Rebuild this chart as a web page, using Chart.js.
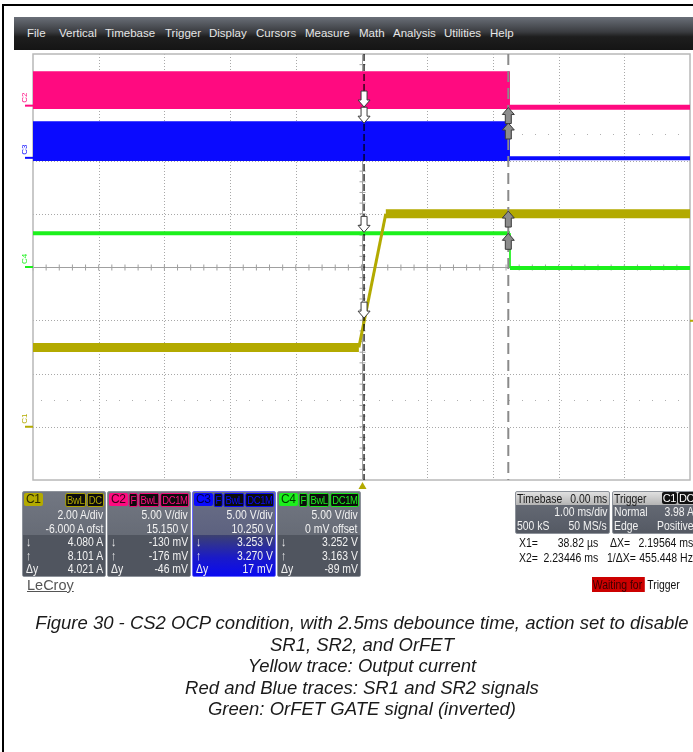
<!DOCTYPE html>
<html>
<head>
<meta charset="utf-8">
<script src="https://cdn.jsdelivr.net/npm/chart.js@4/dist/chart.umd.min.js"></script>
<style>
  body { margin:0; width:693px; height:752px; position:relative; overflow:hidden; background:#fff;
         font-family:'Liberation Sans',sans-serif; }
  #scope { position:absolute; left:0; top:0; }
  .frame { position:absolute; background:#000; }
  #menu { position:absolute; left:14px; top:17px; width:679px; height:33px;
          background:linear-gradient(#6a6f78 0%, #3a3c40 45%, #1e1e1e 60%, #151515 100%); }
  #menu span { position:absolute; top:10px; color:#e6e6e6; font-size:11.5px; }
  .n { display:inline-block; transform:scaleX(0.8); white-space:nowrap; }
  .nl { transform-origin:left center; } .nr { transform-origin:right center; }
  .rw { position:relative; height:13.5px; line-height:13.5px; }
  .rw .l { position:absolute; left:3px; top:0; }
  .rw .r { position:absolute; right:2px; top:0; }
  .panel { position:absolute; top:491px; width:82px; height:84px; border:1px solid #8d929a; border-radius:2px;
           background:linear-gradient(#727782, #5c616b); color:#f2f2f2; font-size:13px; overflow:hidden; }
  .panel .hd { position:relative; height:16px; }
  .panel .nm { position:absolute; left:1px; top:1px; padding:0 2px; border-radius:2px; font-size:12px; line-height:13px; letter-spacing:-0.3px; }
  .panel .bds { position:absolute; right:1px; top:1px; display:flex; transform:scaleX(0.9); transform-origin:right center; }
  .panel .bd { background:#0c0c0c; border-radius:2px; padding:0 1px; font-size:10.5px; line-height:12px; margin-left:1px; letter-spacing:-0.4px; }
  .panel .ms { position:absolute; left:0; right:0; top:43px; bottom:0; background:#50555f; }
  .tpanel { position:absolute; top:491px; height:41px; border:1px solid #8d929a; border-radius:2px;
            background:linear-gradient(#6a6f7a, #555a64); color:#f2f2f2; font-size:13px; overflow:hidden; }
  .tpanel .hd { height:13px; line-height:13px; background:linear-gradient(#e0e0e0,#b4b4b4); color:#1a1a1a; }
  .tpanel .hd.rw .l { left:1px; } .tpanel .rw .l { left:1px; }
  .txt { position:absolute; font-size:12.5px; color:#111; white-space:nowrap; height:15px; line-height:15px; }
  #caption { position:absolute; left:30px; width:664px; top:612px; text-align:center; font-style:italic;
             font-size:18.5px; color:#1a1a1a; line-height:21.5px; }
</style>
</head>
<body>
<canvas id="scope" width="693" height="752"></canvas>
<div class="frame" style="left:2px; top:4px; width:691px; height:2px;"></div>
<div class="frame" style="left:2px; top:4px; width:2px; height:748px;"></div>
<div id="menu"></div>
<div id="panels"></div>
<div class="txt" style="left:27px; top:578px; font-size:14.5px; color:#555; text-decoration:underline;">LeCroy</div>
<div id="readout"></div>
<div id="caption"></div>

<script>
// ---- trace data ----
// time axis: 1.00 ms/div, trigger at centre -> -5 .. +5 ms
const c1Time = [-5, -0.04, 0.37, 5];          // C1 output current, A
const c1Amps = [2.98, 2.98, 8.0, 8.0];

const c2OnTime = [-5, 2.26];                  // C2 SR1 gate, switching band (V)
const c2OnHigh = [3.1, 3.1];
const c2OnLow = [-0.17, -0.17];
const c2OffTime = [2.26, 5];
const c2Off = [-0.14, -0.14];

const c3OnTime = [-5, 2.26];                  // C3 SR2 gate, switching band (V)
const c3OnHigh = [3.3, 3.3];
const c3OnLow = [-0.16, -0.16];
const c3OffTime = [2.26, 5];
const c3Off = [-0.05, -0.05];

const c4Time = [-5, 2.26, 2.26, 5];           // C4 OrFET gate (inverted), V
const c4Volts = [3.17, 3.17, -0.09, -0.09];

// vertical settings per channel: units/div and offset
const chScale = { C1: 2, C2: 5, C3: 5, C4: 5 };
const chOffset = { C1: -6, C2: 15.15, C3: 10.25, C4: 0 };
const chColor = { C1: '#b3aa00', C2: '#ff0a80', C3: '#0a0aff', C4: '#1cf01c' };

// cursors
const cursorTime = [0.03882, 2.23446];        // X1, X2 in ms
const cursorX1 = { C1: 4.080, C2: -0.130, C3: 3.253, C4: 3.252 };
const cursorX2 = { C1: 8.101, C2: -0.176, C3: 3.270, C4: 3.163 };
const triggerLevel = 3.98;                    // A on C1

const toDiv = (ch, v) => (v + chOffset[ch]) / chScale[ch];
const pts = (ch, ts, vs) => ts.map((t, i) => ({ x: t, y: toDiv(ch, vs[i]) }));

// ---- menu, panels, readouts, caption ----
const L = s => `<span class="l"><span class="n nl">${s}</span></span>`;
const R = s => `<span class="r"><span class="n nr">${s}</span></span>`;

const menuItems = ['File','Vertical','Timebase','Trigger','Display','Cursors','Measure','Math','Analysis','Utilities','Help'];
const menuX = [27, 59, 105, 165, 209, 256, 305, 359, 393, 444, 490];
document.getElementById('menu').innerHTML =
  menuItems.map((m, i) => `<span style="left:${menuX[i] - 14}px">${m}</span>`).join('');

const panels = [
  { id:'C1', left:22,  nameTxt:'#2b2900', badges:['BwL','DC'], rows:['2.00 A/div','-6.000 A ofst'], meas:['4.080 A','8.101 A','4.021 A'] },
  { id:'C2', left:107, nameTxt:'#3a0018', badges:['F','BwL','DC1M'], rows:['5.00 V/div','15.150 V'], meas:['-130 mV','-176 mV','-46 mV'] },
  { id:'C3', left:192, nameTxt:'#00004a', badges:['F','BwL','DC1M'], rows:['5.00 V/div','10.250 V'], meas:['3.253 V','3.270 V','17 mV'], active:true },
  { id:'C4', left:277, nameTxt:'#003a00', badges:['F','BwL','DC1M'], rows:['5.00 V/div','0 mV offset'], meas:['3.252 V','3.163 V','-89 mV'] }
];
const measSym = ['↓','↑','Δy'];
let html = '';
panels.forEach(p => {
  const c = chColor[p.id];
  const style = p.active ? 'border-color:#6a6aff; background:linear-gradient(#6a6f86,#50557a);' : '';
  const msStyle = p.active ? 'background:linear-gradient(#3c4170 0%, #1a1ac8 55%, #0a0af0 100%);' : '';
  html += `<div class="panel" style="left:${p.left}px; ${style}">
    <div class="hd"><span class="nm" style="background:${c}; color:${p.nameTxt}">${p.id}</span>
      <span class="bds">${p.badges.map(b => `<span class="bd" style="color:${c}; border:1px solid ${c}">${b}</span>`).join('')}</span></div>
    ${p.rows.map(r => `<div class="rw">${R(r)}</div>`).join('')}
    <div class="ms" style="${msStyle}">${p.meas.map((m, i) => `<div class="rw">${L(measSym[i])}${R(m)}</div>`).join('')}</div>
  </div>`;
});
html += `<div class="tpanel" style="left:515px; width:93px;">
  <div class="hd rw">${L('Timebase')}${R('0.00 ms')}</div>
  <div class="rw">${R('1.00 ms/div')}</div>
  <div class="rw">${L('500 kS')}${R('50 MS/s')}</div></div>`;
html += `<div class="tpanel" style="left:612px; width:86px;">
  <div class="hd rw">${L('Trigger')}<span class="r" style="font-size:11px; letter-spacing:-0.4px; right:4px"><span style="background:#111;color:#fff;padding:0 1px;border-radius:2px">C1</span><span style="background:#111;color:#fff;padding:0 1px;border-radius:2px;margin-left:1px">DC</span></span></div>
  <div class="rw" style="margin-right:3px">${L('Normal')}${R('3.98 A')}</div>
  <div class="rw" style="margin-right:3px">${L('Edge')}${R('Positive')}</div></div>`;
document.getElementById('panels').innerHTML = html;

// cursor readouts: [text, x, y, align]
const readout = [
  ['X1=', 519, 536, 'l'], ['38.82 µs', 598, 536, 'r'], ['ΔX=', 610, 536, 'l'], ['2.19564 ms', 693, 536, 'r'],
  ['X2=', 519, 551, 'l'], ['2.23446 ms', 598, 551, 'r'], ['1/ΔX=', 607, 551, 'l'], ['455.448 Hz', 693, 551, 'r']
];
document.getElementById('readout').innerHTML = readout.map(([t, x, y, a]) => a === 'l'
  ? `<div class="txt" style="left:${x}px; top:${y}px"><span class="n nl" style="transform:scaleX(0.84)">${t}</span></div>`
  : `<div class="txt" style="left:${x - 120}px; width:120px; top:${y}px; text-align:right"><span class="n nr" style="transform:scaleX(0.84)">${t}</span></div>`).join('') +
  `<div class="txt" style="left:592px; top:577px; font-size:13px"><span class="n nl" style="transform:scaleX(0.8)"><span style="display:inline-block; background:#cc0000; color:#3a0000; padding:0 3px 0 1px; height:15px">Waiting for</span> Trigger</span></div>`;

const captionLines = [
  'Figure 30 - CS2 OCP condition, with 2.5ms debounce time, action set to disable',
  'SR1, SR2, and OrFET',
  'Yellow trace: Output current',
  'Red and Blue traces: SR1 and SR2 signals',
  'Green: OrFET GATE signal (inverted)'
];
document.getElementById('caption').innerHTML = captionLines.map(l => `<div>${l}</div>`).join('');

// ---- scope graticule, cursors and markers ----
const scopePlugin = {
  id: 'scopeScreen',
  beforeDatasetsDraw(chart) {
    const { ctx, chartArea: a, scales: { x, y } } = chart;
    const line = (x1, y1, x2, y2) => { ctx.beginPath(); ctx.moveTo(x1, y1); ctx.lineTo(x2, y2); ctx.stroke(); };
    ctx.save();
    ctx.strokeStyle = '#a8a8a8'; ctx.lineWidth = 1; ctx.setLineDash([1, 2]);
    for (let t = -4; t <= 4; t++) {
      if (t === 0) continue;
      const px = Math.round(x.getPixelForValue(t)) + 0.5;
      line(px, a.top, px, a.bottom);
    }
    for (let d = -3; d <= 3; d++) {
      if (d === 0) continue;
      const py = Math.round(y.getPixelForValue(d)) + 0.5;
      line(a.left, py, a.right, py);
    }
    ctx.setLineDash([1, 12]); ctx.strokeStyle = '#b0b0b0';
    [2.5, -2.5].forEach(d => { const py = Math.round(y.getPixelForValue(d)) + 0.5; line(a.left + 8, py, a.right, py); });
    // centre crosshair with minor ticks
    ctx.setLineDash([]); ctx.strokeStyle = '#a0a0a0'; ctx.lineWidth = 1;
    const cy = Math.round(y.getPixelForValue(0)) + 0.5, cx = Math.round(x.getPixelForValue(0)) + 0.5;
    line(a.left, cy, a.right, cy); line(cx, a.top, cx, a.bottom);
    for (let t = -5; t <= 5; t += 0.2) { const px = x.getPixelForValue(t); line(px, cy - 3, px, cy + 3); }
    for (let d = -4; d <= 4; d += 0.2) { const py = y.getPixelForValue(d); line(cx - 3, py, cx + 3, py); }
    // frame
    ctx.strokeStyle = '#b8b8b8'; ctx.lineWidth = 1.5;
    ctx.strokeRect(a.left, a.top, a.right - a.left, a.bottom - a.top);
    ctx.restore();
  },
  afterDatasetsDraw(chart) {
    const { ctx, chartArea: a, scales: { x, y } } = chart;
    const line = (x1, y1, x2, y2) => { ctx.beginPath(); ctx.moveTo(x1, y1); ctx.lineTo(x2, y2); ctx.stroke(); };
    ctx.save();
    // cursor lines
    const x1 = x.getPixelForValue(cursorTime[0]), x2 = x.getPixelForValue(cursorTime[1]);
    ctx.strokeStyle = '#000'; ctx.lineWidth = 1.2; ctx.setLineDash([7, 3]);
    line(x1, a.top, x1, a.bottom);
    ctx.strokeStyle = '#8a8a8a'; ctx.lineWidth = 2; ctx.setLineDash([11, 6]);
    line(x2, a.top, x2, a.bottom);
    ctx.setLineDash([]);
    // cursor arrows
    const arrow = (px, tipY, s, fill) => {   // s = 1 points down, -1 points up
      const len = 16, hw = 6, sw = 3, hl = 7;
      ctx.beginPath();
      ctx.moveTo(px, tipY);
      ctx.lineTo(px - hw, tipY - s * hl);
      ctx.lineTo(px - sw, tipY - s * hl);
      ctx.lineTo(px - sw, tipY - s * len);
      ctx.lineTo(px + sw, tipY - s * len);
      ctx.lineTo(px + sw, tipY - s * hl);
      ctx.lineTo(px + hw, tipY - s * hl);
      ctx.closePath();
      ctx.fillStyle = fill; ctx.fill();
      ctx.strokeStyle = '#3a3a3a'; ctx.lineWidth = 1; ctx.stroke();
    };
    Object.keys(cursorX1).forEach(ch => arrow(x1, y.getPixelForValue(toDiv(ch, cursorX1[ch])), 1, '#fff'));
    Object.keys(cursorX2).forEach(ch => arrow(x2, y.getPixelForValue(toDiv(ch, cursorX2[ch])), -1, '#8c8c8c'));
    // channel ground markers on the left
    ctx.font = '8px "Liberation Sans", sans-serif';
    ['C2', 'C3', 'C4', 'C1'].forEach(ch => {
      const py = y.getPixelForValue(toDiv(ch, 0));
      ctx.strokeStyle = chColor[ch]; ctx.fillStyle = chColor[ch]; ctx.lineWidth = 2;
      line(a.left - 8, py, a.left, py);
      ctx.save(); ctx.translate(a.left - 4, py - 3); ctx.rotate(-Math.PI / 2);
      ctx.textAlign = 'left'; ctx.textBaseline = 'bottom'; ctx.fillText(ch, 0, 0); ctx.restore();
    });
    // trigger position and level markers
    ctx.fillStyle = chColor.C1;
    const tx = x.getPixelForValue(0) + 1;
    ctx.beginPath(); ctx.moveTo(tx, a.bottom + 2); ctx.lineTo(tx - 4, a.bottom + 9); ctx.lineTo(tx + 4, a.bottom + 9); ctx.closePath(); ctx.fill();
    const ly = y.getPixelForValue(toDiv('C1', triggerLevel));
    ctx.fillRect(a.right, ly - 1, 3, 2);
    ctx.restore();
  }
};

const ctx = document.getElementById('scope').getContext('2d');
const edgeWidth = (w, edgeIdx, edgeW) => ({ borderWidth: c => c.p0DataIndex === edgeIdx ? edgeW : w });

new Chart(ctx, {
  type: 'line',
  data: {
    datasets: [
      { label: 'C1', data: pts('C1', c1Time, c1Amps), borderColor: chColor.C1, borderWidth: 9,
        segment: edgeWidth(9, 1, 3), borderJoinStyle: 'bevel' },
      { label: 'C4', data: pts('C4', c4Time, c4Volts), borderColor: chColor.C4, borderWidth: 4,
        segment: edgeWidth(4, 1, 1) },
      { label: 'C2 high', data: pts('C2', c2OnTime, c2OnHigh), borderColor: chColor.C2, borderWidth: 3,
        backgroundColor: chColor.C2, fill: '+1' },
      { label: 'C2 low', data: pts('C2', c2OnTime, c2OnLow), borderColor: chColor.C2, borderWidth: 3 },
      { label: 'C2 off', data: pts('C2', c2OffTime, c2Off), borderColor: chColor.C2, borderWidth: 5 },
      { label: 'C3 high', data: pts('C3', c3OnTime, c3OnHigh), borderColor: chColor.C3, borderWidth: 3,
        backgroundColor: chColor.C3, fill: '+1' },
      { label: 'C3 low', data: pts('C3', c3OnTime, c3OnLow), borderColor: chColor.C3, borderWidth: 3 },
      { label: 'C3 off', data: pts('C3', c3OffTime, c3Off), borderColor: chColor.C3, borderWidth: 4 }
    ]
  },
  options: {
    responsive: false,
    animation: false,
    layout: { padding: { left: 33, top: 54, right: 3, bottom: 272 } },
    elements: { point: { radius: 0 }, line: { tension: 0 } },
    scales: {
      x: { type: 'linear', min: -5, max: 5, display: false },
      y: { min: -4, max: 4, display: false }
    },
    plugins: { legend: { display: false }, tooltip: { enabled: false } }
  },
  plugins: [scopePlugin]
});
</script>
</body>
</html>
